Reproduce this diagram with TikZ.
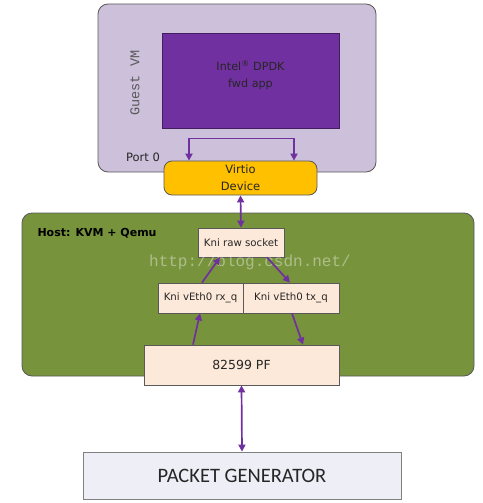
\documentclass[tikz,border=0pt]{standalone}
\usepackage{fontspec}
\setmainfont{DejaVu Sans}
\newfontfamily\genfont{Carlito}
\newfontfamily\vmfont{Liberation Mono}
\usepackage{xcolor}
\usepackage{tikz}
\usetikzlibrary{arrows.meta,positioning}

\definecolor{vmlilac}{HTML}{CCC0DA}
\definecolor{appviolet}{HTML}{7030A0}
\definecolor{virtiogold}{HTML}{FFC000}
\definecolor{hostolive}{HTML}{77933C}
\definecolor{kniPeach}{HTML}{FDE9D9}
\definecolor{genmist}{HTML}{EEEFF6}
\definecolor{edgegrey}{HTML}{595959}
\definecolor{inkgrey}{HTML}{262626}

\begin{document}
\begin{tikzpicture}[x=1pt,y=-1pt,
    box/.style={draw=edgegrey,line width=0.8pt,text=inkgrey,inner sep=0pt},
    knibox/.style={box,fill=kniPeach,font=\fontsize{10.2}{12}\selectfont},
    link/.style={draw=appviolet,line width=1.7pt,-{Triangle[length=7pt,width=7pt]}},
    twoway/.style={link,{Triangle[length=7pt,width=7pt]}-{Triangle[length=7pt,width=7pt]}}]
  \useasboundingbox (0,0) rectangle (482,503);
  % guest side
  \node[box,fill=vmlilac,rounded corners=10pt,minimum width=278pt,minimum height=168pt] (guest) at (237,88) {};
  \node[box,fill=appviolet,draw=appviolet!60!black,minimum width=177pt,minimum height=95pt] (dpdk) at (250.5,80.5) {};
  \node[text=inkgrey,align=center,font=\fontsize{11.2}{17}\selectfont] (dpdktext) at (250.5,75) {Intel\textsuperscript{\textregistered}\ DPDK\\fwd app};
  \node[rotate=90,text=edgegrey,font=\vmfont\fontsize{13.5}{15}\selectfont] (vmlabel) at (135,83) {Guest VM};
  \node[text=inkgrey,font=\fontsize{11.5}{14}\selectfont] (port) at (143,157) {Port 0};
  \node[box,fill=virtiogold,rounded corners=8pt,minimum width=153pt,minimum height=34pt,align=center,
        font=\fontsize{11.5}{17}\selectfont] (virtio) at (240.5,178) {Virtio\\Device};
  % host side
  \node[box,fill=hostolive,rounded corners=10pt,minimum width=452pt,minimum height=163pt] (host) at (248,294.5) {};
  \node[anchor=west,text=black,font=\bfseries\fontsize{11}{13}\selectfont] (hostlabel) at (34,233) {Host: KVM + Qemu};
  \node[knibox,minimum width=86pt,minimum height=29pt] (raw) at (241,242.5) {Kni raw socket};
  \node[knibox,minimum width=85pt,minimum height=30pt] (rxq) at (200.5,298) {Kni vEth0 rx\_q};
  \node[knibox,minimum width=96pt,minimum height=30pt] (txq) at (291,298) {Kni vEth0 tx\_q};
  \node[knibox,minimum width=195pt,minimum height=40pt,font=\fontsize{12.5}{14}\selectfont] (pf) at (241.5,365) {82599 PF};
  \node[text=white,opacity=0.4,font=\vmfont\fontsize{16}{18}\selectfont] (mark) at (250,262) {http://blog.csdn.net/};
  % generator
  \node[box,draw=gray,fill=genmist,minimum width=318pt,minimum height=47pt,font=\genfont\fontsize{20.5}{24}\selectfont] (gen) at (242,475.5) {PACKET GENERATOR};
  % connectors
  \draw[twoway] ([xshift=-51.5pt]virtio.north) -- ++(0,-22) -| ([xshift=53.5pt]virtio.north);
  \draw[twoway] (virtio.south) -- (raw.north);
  \draw[link] ([xshift=-48.5pt]pf.north) -- ([xshift=-0.5pt]rxq.south);
  \draw[link] ([xshift=1.5pt]rxq.north) -- ([xshift=-21pt]raw.south);
  \draw[link] ([xshift=26pt]raw.south) -- ([xshift=-1pt]txq.north);
  \draw[link] ([xshift=1pt]txq.south) -- ([xshift=61.5pt]pf.north);
  \draw[twoway] (pf.south) -- (gen.north);
\end{tikzpicture}
\end{document}
